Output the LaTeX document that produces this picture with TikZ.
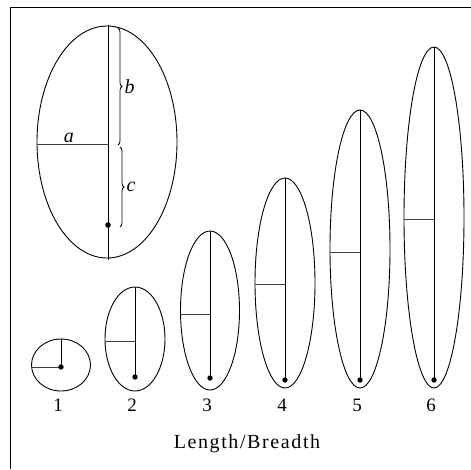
\documentclass[tikz,border=0pt]{standalone}
\usepackage{fontspec}
\setmainfont{Liberation Serif}
\usetikzlibrary{decorations.pathreplacing}

\tikzset{
  outline/.style={line width=0.9pt},
  axis/.style={line width=1pt},
  radius/.style={line width=0.9pt, black!75},
  dotmark/.style={fill=black},
  numlabel/.style={font=\fontsize{19}{22}\selectfont},
  letterlabel/.style={text=black, font=\fontsize{20}{24}\selectfont\itshape},
  bracemark/.style={decorate, decoration={brace, amplitude=4pt}, line width=0.8pt}
}

\begin{document}
\begin{tikzpicture}[x=1pt, y=-1pt]
        \useasboundingbox (0,0) rectangle (471,469);
        % ramecek
        \draw[line width=0.8pt] (471,7) -- (10,7) -- (10,469);

        % velka elipsa
        \draw[outline] (107,142) ellipse [x radius=70, y radius=116];
        \draw[axis] (108,25) coordinate (T) -- (108,260) coordinate (U);
        \draw[radius] (37,144) coordinate (L) -- node[above, pos=0.45, letterlabel, inner sep=1pt] {a} (108,144) coordinate (M);
        \fill[dotmark] (108,225) coordinate (P) circle (2.8);
        \draw[bracemark] (118,28) -- node[right=3pt, letterlabel] {b} (118,145);
        \draw[bracemark] (120,147) -- node[right=3pt, letterlabel] {c} (120,227);

        % rada elips
        \foreach \n/\cx/\cy/\rx/\ry/\top/\hy/\dy in {
            1/61/365/29.5/26/339/367/367,
            2/135/339/30/52/287/341/377,
            3/210/310.5/29.5/79.5/231/314/378,
            4/285/283/30/105/178/284/380,
            5/360/249/30/139/110/252/380,
            6/434/217.5/30/170.5/47/219/380} {
          \draw[outline] (\cx,\cy) ellipse [x radius=\rx, y radius=\ry];
          \draw[axis] (\cx,\top) coordinate (top\n) -- (\cx,\dy) coordinate (dot\n);
          \draw[radius] (\cx-\rx,\hy) coordinate (left\n) -- (\cx,\hy);
          \fill[dotmark] (dot\n) circle (2.7);
          \node[numlabel] (lab\n) at (\cx-3,405) {\n};
        }

        \node[anchor=base, font=\fontsize{20}{24}\selectfont\addfontfeature{LetterSpace=8}] (title) at (247,448) {Length/Breadth};
    \end{tikzpicture}
\end{document}
